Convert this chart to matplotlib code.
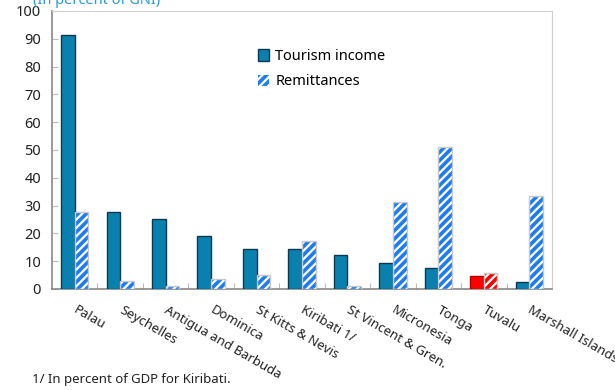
import matplotlib
matplotlib.use("Agg")
import matplotlib.pyplot as plt
import numpy as np
from matplotlib.patches import Patch

plt.rcParams['font.family'] = ['Noto Sans', 'DejaVu Sans']
plt.rcParams['hatch.linewidth'] = 2.6

countries = ["Palau", "Seychelles", "Antigua and Barbuda", "Dominica", "St Kitts & Nevis",
             "Kiribati 1/", "St Vincent & Gren.", "Micronesia", "Tonga", "Tuvalu",
             "Marshall Islands"]
tourism = [91.4, 27.6, 25.1, 19.0, 14.4, 14.4, 12.2, 9.2, 7.4, 4.5, 2.4]
remittances = [27.6, 2.8, 1.2, 3.7, 5.2, 17.3, 1.2, 31.2, 51.1, 5.7, 33.3]
highlight = "Tuvalu"

TOUR_COL = "#0A80AE"
TOUR_EDGE = "#0B3A4F"
REM_COL = "#1F7CF0"
RED = "#FF0000"

fig = plt.figure(figsize=(6.15, 3.9), dpi=100)
ax = fig.add_axes([0.0846, 0.259, 0.8130, 0.713])

x = np.arange(len(countries))
w = 0.3
for i, c in enumerate(countries):
    red = c == highlight
    ax.bar(x[i] - w / 2, tourism[i], w, color=RED if red else TOUR_COL,
           edgecolor="#B00000" if red else TOUR_EDGE, linewidth=1.0, zorder=3)
    # striped bar: hatch drawn in the stripe colour, then a thin grey outline
    ax.bar(x[i] + w / 2, remittances[i], w, color="white",
           edgecolor=RED if red else REM_COL, hatch="////", linewidth=0, zorder=3)
    ax.bar(x[i] + w / 2, remittances[i], w, color="none",
           edgecolor="#C8C8C8", linewidth=1.0, zorder=4)

ax.set_xlim(-0.5, len(countries) - 0.5)
ax.set_ylim(0, 100)
ax.set_yticks(np.arange(0, 101, 10))
ax.tick_params(axis="y", direction="in", length=4, color="#BBBBBB", labelsize=10.5,
               labelcolor="#222222", pad=8)
ax.set_xticks(np.arange(0.5, len(countries) - 0.5, 1))
ax.set_xticklabels([])
ax.tick_params(axis="x", direction="in", length=4, color="#BBBBBB")

for side in ["top", "right"]:
    ax.spines[side].set_color("#D0D0D0")
for side in ["left", "bottom"]:
    ax.spines[side].set_color("#888888")
    ax.spines[side].set_linewidth(1.2)

trans = ax.get_xaxis_transform()
for i, c in enumerate(countries):
    ax.text(x[i] + 0.07, -0.052, c, transform=trans, rotation=-30,
            rotation_mode="anchor", ha="left", va="top", fontsize=9.5,
            color="#222222")

handles = [Patch(facecolor=TOUR_COL, edgecolor=TOUR_EDGE, label="Tourism income"),
           Patch(facecolor="white", edgecolor=REM_COL, hatch="////", linewidth=0,
                 label="Remittances")]
ax.legend(handles=handles, loc="upper left", bbox_to_anchor=(0.385, 0.91),
          frameon=False, fontsize=10.5, handlelength=0.8, handleheight=0.8,
          handletextpad=0.4, labelspacing=0.7)

fig.text(0.054, 0.99, "(In percent of GNI)", fontsize=10.5, color="#2A9AD6",
         ha="left", va="baseline")
fig.text(0.052, 0.026, "1/ In percent of GDP for Kiribati.", fontsize=9.5,
         color="#222222", ha="left", va="center")

fig.savefig("out.png", dpi=100)
